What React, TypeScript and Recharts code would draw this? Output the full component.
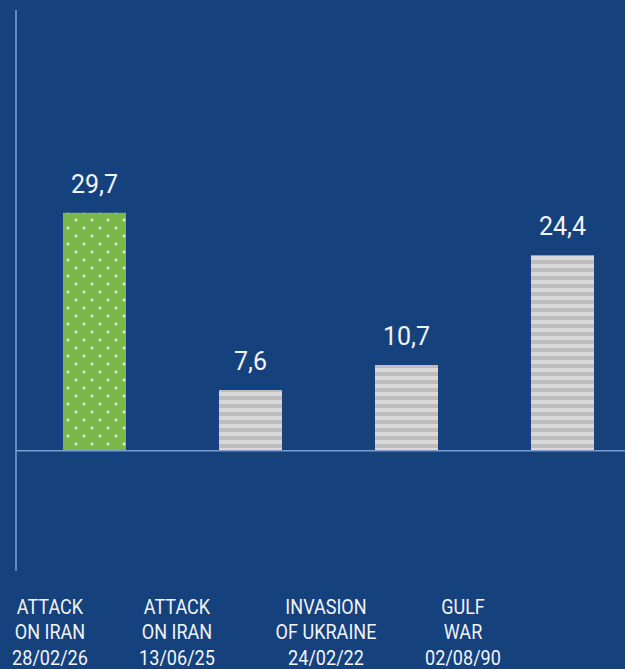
import { Bar, BarChart, Cell, LabelList, ReferenceLine, XAxis, YAxis } from "recharts";

const events = ["ATTACK|ON IRAN|28/02/26", "ATTACK|ON IRAN|13/06/25", "INVASION|OF UKRAINE|24/02/22", "GULF|WAR|02/08/90"];
const values = [29.7, 7.6, 10.7, 24.4];
const highlight = [true, false, false, false];
const yDomain = [-15, 55];
// labels in the original sit left of the bar centres
const labelShift = [-44, -73, -80, -99];

const BG = "#15417d";
const AXIS = "#7d9ccf";
const TEXT = "#f2f4f8";

const data = events.map((e, i) => ({ name: e, value: values[i] }));

function EventTick(props: any) {
  const { x, y, payload, index } = props;
  const lines = String(payload.value).split("|");
  return (
    <g transform={`translate(${x + labelShift[index]},${y}) scale(0.86,1)`}>
      {lines.map((l, i) => (
        <text
          key={i}
          x={0}
          y={43 + i * 25.5}
          textAnchor="middle"
          fill={TEXT}
          fontSize={21}
          fontFamily="Roboto, sans-serif"
        >
          {l}
        </text>
      ))}
    </g>
  );
}

function ValueLabel(props: any) {
  const { x, y, width, value } = props;
  return (
    <text
      x={x + width / 2}
      y={y - 20}
      textAnchor="middle"
      fill={TEXT}
      fontSize={25}
      fontFamily="Roboto, sans-serif"
    >
      {String(value).replace(".", ",")}
    </text>
  );
}

export default function App() {
  return (
    <div
      style={{
        position: "fixed",
        left: 0,
        top: 0,
        width: 625,
        height: 669,
        overflow: "hidden",
        background: BG,
      }}
    >
      <BarChart
        width={640}
        height={669}
        data={data}
        margin={{ top: 10, right: 0, left: 15, bottom: 0 }}
        barSize={63}
      >
        <defs>
          <pattern id="dots" width={16} height={16} patternUnits="userSpaceOnUse">
            <rect width={16} height={16} fill="#7bb84b" />
            <circle cx={4} cy={4} r={1.4} fill="#ffffff" fillOpacity={0.8} />
            <circle cx={12} cy={12} r={1.4} fill="#ffffff" fillOpacity={0.8} />
          </pattern>
          <pattern id="stripes" width={8} height={8} patternUnits="userSpaceOnUse">
            <rect width={8} height={8} fill="#d8d8d8" />
            <rect y={4} width={8} height={4} fill="#bdbdbd" />
          </pattern>
        </defs>
        <YAxis
          domain={yDomain}
          width={1}
          tick={false}
          tickLine={false}
          axisLine={{ stroke: AXIS, strokeWidth: 1.5 }}
        />
        <XAxis
          dataKey="name"
          height={98}
          axisLine={false}
          tickLine={false}
          tickSize={0}
          tickMargin={0}
          interval={0}
          tick={<EventTick />}
        />
        <ReferenceLine y={0} stroke={AXIS} strokeWidth={1.5} />
        <Bar dataKey="value" isAnimationActive={false}>
          {data.map((d, i) => (
            <Cell key={d.name} fill={highlight[i] ? "url(#dots)" : "url(#stripes)"} />
          ))}
          <LabelList dataKey="value" content={<ValueLabel />} />
        </Bar>
      </BarChart>
    </div>
  );
}
